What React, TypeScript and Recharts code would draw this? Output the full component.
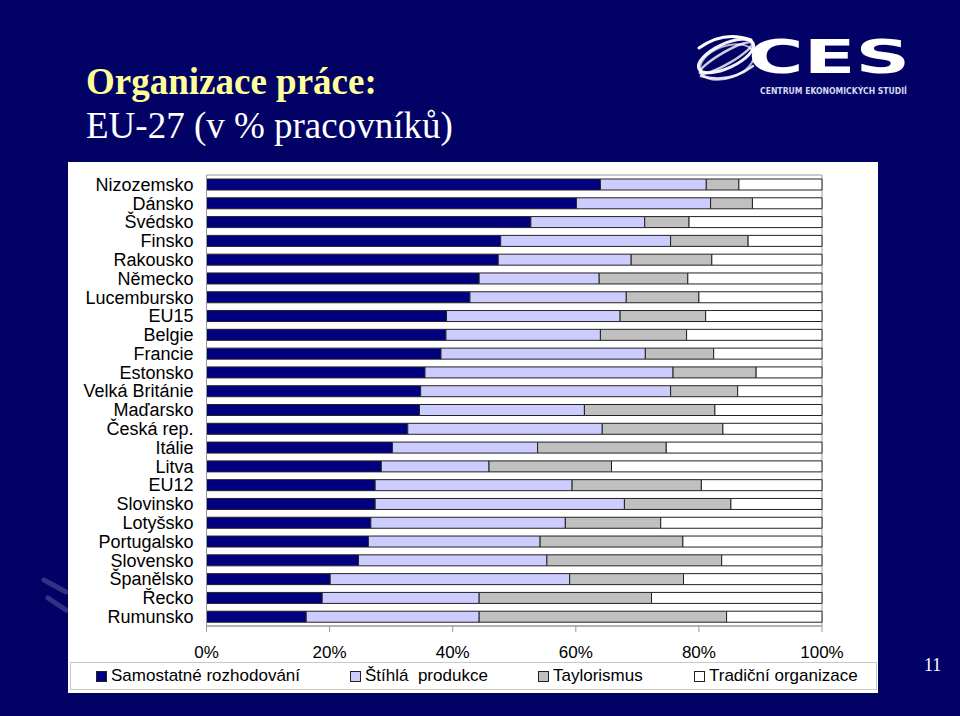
import React from 'react';
import { BarChart, Bar, XAxis, YAxis, ReferenceArea, Legend } from 'recharts';

const categories = ['Nizozemsko', 'Dánsko', 'Švédsko', 'Finsko', 'Rakousko', 'Německo', 'Lucembursko', 'EU15', 'Belgie', 'Francie', 'Estonsko', 'Velká Británie', 'Maďarsko', 'Česká rep.', 'Itálie', 'Litva', 'EU12', 'Slovinsko', 'Lotyšsko', 'Portugalsko', 'Slovensko', 'Španělsko', 'Řecko', 'Rumunsko'];
const samostatne = [64.0, 60.1, 52.7, 47.8, 47.4, 44.3, 42.8, 39.0, 38.9, 38.1, 35.5, 34.8, 34.6, 32.7, 30.2, 28.4, 27.4, 27.4, 26.7, 26.3, 24.7, 20.1, 18.8, 16.2];
const stihla = [17.2, 21.8, 18.5, 27.6, 21.6, 19.5, 25.4, 28.2, 25.1, 33.2, 40.3, 40.6, 26.8, 31.6, 23.6, 17.5, 32.0, 40.5, 31.6, 27.9, 30.6, 38.9, 25.5, 28.1];
const taylorismus = [5.3, 6.8, 7.2, 12.6, 13.1, 14.4, 11.8, 13.9, 14.0, 11.1, 13.5, 10.9, 21.2, 19.6, 20.9, 19.9, 21.0, 17.3, 15.5, 23.2, 28.4, 18.5, 28.0, 40.2];
const tradicni = [13.5, 11.3, 21.6, 12.0, 17.9, 21.8, 20.0, 18.9, 22.0, 17.6, 10.7, 13.7, 17.4, 16.1, 25.3, 34.2, 19.6, 14.8, 26.2, 22.6, 16.3, 22.5, 27.7, 15.5];
const xTicks = [0, 20, 40, 60, 80, 100];
const seriesNames = ['Samostatné rozhodování', 'Štíhlá  produkce', 'Taylorismus', 'Tradiční organizace'];
const seriesKeys = ['samostatne', 'stihla', 'taylorismus', 'tradicni'];
const seriesColors = ['#000080', '#CCCCFF', '#C0C0C0', '#FFFFFF'];

const data = categories.map((name, i) => ({
  name,
  samostatne: samostatne[i],
  stihla: stihla[i],
  taylorismus: taylorismus[i],
  tradicni: tradicni[i],
}));

const legendLefts = [25, 279, 467, 623];

const LegendBox = () => (
  <div style={{ position: 'relative', width: 807, height: 28, boxSizing: 'border-box', border: '1px solid #c8c8c8', background: '#fff', fontFamily: '"Liberation Sans", Arial, sans-serif', fontSize: 17 }}>
    {seriesNames.map((n, i) => (
      <div key={n} style={{ position: 'absolute', left: legendLefts[i], top: 2, height: 22, display: 'flex', alignItems: 'center', whiteSpace: 'pre' }}>
        <span style={{ display: 'inline-block', width: 9, height: 9, border: '1px solid #222', background: seriesColors[i], marginRight: 4 }} />
        <span>{n}</span>
      </div>
    ))}
  </div>
);

const Logo = () => (
  <svg width={240} height={90} style={{ position: 'absolute', left: 690, top: 22 }}>
    <g fill="none" stroke="#ffffff" strokeLinecap="round">
      <ellipse cx={36} cy={34} rx={30} ry={12} transform="rotate(-25 36 34)" strokeWidth={3} opacity={0.95} />
      <ellipse cx={36} cy={36} rx={30} ry={6} transform="rotate(-30 36 36)" strokeWidth={2.5} opacity={0.8} />
      <ellipse cx={37} cy={40} rx={28} ry={16} transform="rotate(-20 37 40)" strokeWidth={2} opacity={0.7} />
      <path d="M9 26 Q34 8 61 18" strokeWidth={3} />
      <path d="M11 54 Q39 62 63 44" strokeWidth={2.5} opacity={0.85} />
    </g>
    <text x={58} y={51} fill="#ffffff" fontFamily="'DejaVu Sans', sans-serif" fontWeight="bold" fontSize={46} textLength={162} lengthAdjust="spacingAndGlyphs">CES</text>
    <text x={70} y={72} fill="#d8d8f0" fontFamily="'DejaVu Sans Condensed', 'DejaVu Sans', sans-serif" fontWeight="bold" fontSize={9} textLength={147} lengthAdjust="spacingAndGlyphs">CENTRUM EKONOMICKÝCH STUDIÍ</text>
  </svg>
);

export default function App() {
  return (
    <div style={{ position: 'absolute', left: 0, top: 0, width: 960, height: 716, background: '#020266', overflow: 'hidden' }}>
      <svg width={80} height={120} style={{ position: 'absolute', left: 0, top: 540 }}>
        <g stroke="#8a8ac0" strokeWidth={5} opacity={0.35} strokeLinecap="round">
          <line x1={44} y1={40} x2={66} y2={52} />
          <line x1={48} y1={58} x2={66} y2={70} />
        </g>
      </svg>
      <div style={{ position: 'absolute', left: 86, top: 60, fontFamily: '"Liberation Serif", "Times New Roman", serif', fontSize: 37, lineHeight: '44px' }}>
        <div style={{ color: '#FFFF99', fontWeight: 'bold' }}>Organizace práce:</div>
        <div style={{ color: '#FFFFFF' }}>EU-27 (v % pracovníků)</div>
      </div>
      <Logo />
      <div style={{ position: 'absolute', left: 68, top: 162, width: 810, height: 531, background: '#FFFFFF' }}>
        <BarChart
          width={810}
          height={531}
          data={data}
          layout="vertical"
          margin={{ top: 13, right: 56, bottom: 3, left: 0 }}
          barSize={11}
        >
          <XAxis
            type="number"
            domain={[0, 100]}
            ticks={xTicks}
            tickFormatter={(v) => `${v}%`}
            height={36}
            axisLine={{ stroke: '#999999' }}
            tickLine={{ stroke: '#999999' }}
            tickSize={6}
            tickMargin={14}
            tick={{ fill: '#000000', fontSize: 17, fontFamily: '"Liberation Sans", Arial, sans-serif' }}
          />
          <YAxis
            type="category"
            dataKey="name"
            width={138.5}
            axisLine={{ stroke: '#999999' }}
            tickLine={false}
            tickSize={0}
            tickMargin={13}
            interval={0}
            tick={{ fill: '#000000', fontSize: 18, fontFamily: '"Liberation Sans", Arial, sans-serif' }}
          />
          <ReferenceArea x1={0} x2={100} fill="none" stroke="#999999" strokeWidth={1} />
          {seriesKeys.map((k, i) => (
            <Bar key={k} dataKey={k} name={seriesNames[i]} stackId="a" fill={seriesColors[i]} stroke="#222222" strokeWidth={1} isAnimationActive={false} />
          ))}
          <Legend verticalAlign="bottom" content={<LegendBox />} wrapperStyle={{ left: 2, bottom: 3, width: 807 }} />
        </BarChart>
      </div>
      <div style={{ position: 'absolute', left: 924, top: 655, color: '#FFFFFF', fontFamily: '"Liberation Serif", serif', fontSize: 18 }}>11</div>
    </div>
  );
}
